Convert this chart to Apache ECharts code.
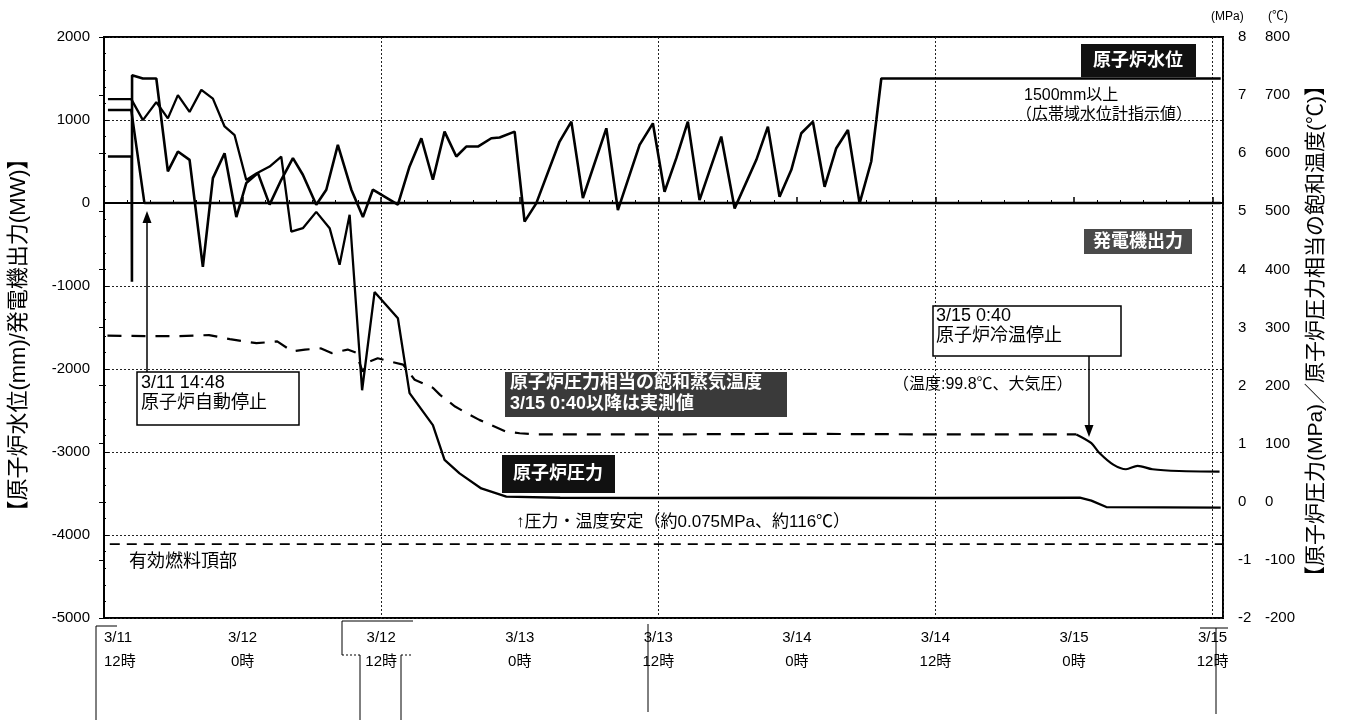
<!DOCTYPE html>
<html>
<head>
<meta charset="utf-8">
<script src="https://cdn.jsdelivr.net/npm/echarts@6/dist/echarts.min.js"></script>
<style>
  html, body { margin: 0; padding: 0; background: #fff; }
  #chart { width: 1346px; height: 720px; }
</style>
</head>
<body>
<div id="chart"></div>
<script>
// Time axis: hours elapsed since 3/11 12:00
const xTickLabels = ['3/11\n12時', '3/12\n0時', '3/12\n12時', '3/13\n0時', '3/13\n12時',
                     '3/14\n0時', '3/14\n12時', '3/15\n0時', '3/15\n12時'];

// 原子炉水位 (mm) : [hour, value]
const reactorLevel = [
  [0.34, 560], [2.39, 560], [2.42, -950], [2.43, 1540], [3.37, 1500], [4.53, 1500],
  [5.53, 380], [6.40, 620], [7.41, 520], [8.56, -770], [9.43, 300], [10.44, 600],
  [11.46, -170], [12.32, 240], [13.33, 360], [14.34, -20], [15.35, 280], [16.36, 540],
  [17.22, 340], [18.38, -20], [19.25, 160], [20.25, 700], [21.42, 160], [22.42, -170],
  [23.28, 160], [25.45, -20], [26.46, 440], [27.48, 780], [28.48, 280], [29.49, 860],
  [30.51, 560], [31.37, 680], [32.38, 680], [33.54, 780], [34.26, 790], [35.56, 860],
  [36.42, -225], [37.43, -5], [39.45, 740], [40.47, 980], [41.47, 60], [43.50, 900],
  [44.50, -85], [46.38, 700], [47.53, 960], [48.54, 135], [49.56, 540], [50.56, 980],
  [51.57, 35], [53.45, 800], [54.61, -65], [56.49, 520], [57.49, 920], [58.50, 75],
  [59.52, 400], [60.38, 840], [61.39, 980], [62.40, 195], [63.41, 660], [64.42, 880],
  [65.43, -5], [66.44, 500], [66.88, 1000], [67.31, 1500], [96.7, 1500]
];

// 発電機出力 (MW)
const generatorOutput = [[0.34, 1120], [2.36, 1120], [3.5, 0], [96.7, 0]];

// 原子炉圧力 (MPa)
const reactorPressure = [
  [0.34, 6.93], [2.36, 6.93], [3.37, 6.57], [4.53, 6.88], [5.53, 6.60], [6.40, 7.00],
  [7.41, 6.71], [8.43, 7.09], [9.43, 6.94], [10.44, 6.46], [11.31, 6.31], [12.32, 5.54],
  [13.19, 5.65], [14.34, 5.77], [15.35, 5.94], [16.22, 4.65], [17.22, 4.71], [18.38, 4.99],
  [19.54, 4.71], [20.40, 4.08], [21.27, 4.94], [22.35, 1.92], [23.43, 3.61], [25.45, 3.16],
  [26.46, 1.87], [28.48, 1.32], [29.49, 0.72], [30.79, 0.49], [32.67, 0.23], [34.84, 0.09],
  [39.5, 0.07], [48, 0.065], [60, 0.07], [72, 0.065], [84.5, 0.07], [85.5, 0.02],
  [86.8, -0.09], [96.7, -0.10]
];

// 原子炉圧力相当の飽和蒸気温度 (°C), until 3/15 0:40
const saturationTemp = [
  [0.3, 286], [4.2, 285], [6.5, 285], [9.1, 287], [10.9, 280], [13.2, 273], [15.0, 276],
  [16.3, 259], [17.4, 262], [18.8, 264], [19.7, 256], [21.1, 262], [21.8, 257], [22.4, 224],
  [22.8, 240], [23.7, 247], [24.9, 241], [25.9, 236], [26.9, 210], [28.5, 196], [29.1, 184],
  [30.4, 164], [31.2, 155], [32.5, 141], [33.4, 133], [34.8, 121], [36.0, 118], [37.3, 116],
  [48, 116], [60, 117], [72, 116], [84.2, 116]
];

// Measured temperature (°C) from 3/15 0:40
const measuredTemp = [
  [84.2, 116], [85.5, 101], [86.2, 84], [87.4, 64], [88.5, 56], [89.5, 62],
  [90.8, 56], [93.1, 53], [96.6, 52]
];

// 有効燃料頂部 (mm)
const fuelTop = [[0.5, -4110], [96.9, -4110]];

const FONT = "'Liberation Sans', 'Noto Sans CJK JP', sans-serif";
const X_MAX = 96.9;

const chart = echarts.init(document.getElementById('chart'), null, { renderer: 'canvas' });

function txt(text, x, y, opt) {
  return {
    type: 'text', z: 110, silent: true,
    style: Object.assign({
      text: text, x: x, y: y, fill: '#000',
      font: (opt && opt.font) || ('17px ' + FONT),
      align: 'left', verticalAlign: 'middle'
    }, opt || {})
  };
}
function box(x, y, w, h, fill, stroke) {
  return {
    type: 'rect', z: 100, silent: true,
    shape: { x: x, y: y, width: w, height: h },
    style: { fill: fill, stroke: stroke || null, lineWidth: stroke ? 1.5 : 0 }
  };
}
function seg(x1, y1, x2, y2, w, dash) {
  return {
    type: 'line', z: 100, silent: true,
    shape: { x1: x1, y1: y1, x2: x2, y2: y2 },
    style: { stroke: '#000', lineWidth: w || 1, lineDash: dash || null }
  };
}
function head(points) {
  return { type: 'polygon', z: 101, silent: true, shape: { points: points }, style: { fill: '#000' } };
}

const graphics = [
  // axis titles
  { type: 'text', z: 110, silent: true, x: 19, y: 335, rotation: Math.PI / 2,
    style: { text: '【原子炉水位(mm)/発電機出力(MW)】', font: '22px ' + FONT, fill: '#000',
             align: 'center', verticalAlign: 'middle' } },
  { type: 'text', z: 110, silent: true, x: 1316, y: 331, rotation: Math.PI / 2,
    style: { text: '【原子炉圧力(MPa)／原子炉圧力相当の飽和温度(℃)】', font: '21px ' + FONT, fill: '#000',
             align: 'center', verticalAlign: 'middle' } },
  txt('(MPa)', 1211, 17, { font: '12px ' + FONT }),
  txt('(℃)', 1268, 17, { font: '12px ' + FONT }),

  // 原子炉水位 label
  box(1081, 44, 115, 33, '#111'),
  txt('原子炉水位', 1138, 61, { font: 'bold 18px ' + FONT, fill: '#fff', align: 'center' }),
  txt('1500mm以上', 1024, 96, { font: '16px ' + FONT }),
  txt('（広帯域水位計指示値）', 1016, 115, { font: '16px ' + FONT }),

  // 発電機出力 label
  box(1084, 229, 108, 25, '#4a4a4a'),
  txt('発電機出力', 1138, 242, { font: 'bold 18px ' + FONT, fill: '#fff', align: 'center' }),

  // automatic scram
  box(137, 372, 162, 53, '#fff', '#000'),
  txt('3/11 14:48', 141, 383, { font: '18px ' + FONT }),
  txt('原子炉自動停止', 141, 403, { font: '18px ' + FONT }),
  seg(147, 372, 147, 221, 1.5),
  head([[147, 211], [142.5, 223], [151.5, 223]]),

  // cold shutdown
  box(933, 306, 188, 50, '#fff', '#000'),
  txt('3/15 0:40', 936, 316, { font: '18px ' + FONT }),
  txt('原子炉冷温停止', 936, 336, { font: '18px ' + FONT }),
  seg(1089, 356, 1089, 427, 1.5),
  head([[1089, 437], [1084.5, 425], [1093.5, 425]]),
  txt('（温度:99.8℃、大気圧）', 893, 385, { font: '16px ' + FONT }),

  // saturation temperature label
  box(505, 372, 282, 45, '#3a3a3a'),
  txt('原子炉圧力相当の飽和蒸気温度', 510, 383, { font: 'bold 18px ' + FONT, fill: '#fff' }),
  txt('3/15 0:40以降は実測値', 510, 404, { font: 'bold 18px ' + FONT, fill: '#fff' }),

  // pressure label
  box(502, 455, 113, 38, '#111'),
  txt('原子炉圧力', 558, 474, { font: 'bold 18px ' + FONT, fill: '#fff', align: 'center' }),
  txt('↑圧力・温度安定（約0.075MPa、約116℃）', 516, 522, { font: '17px ' + FONT }),

  // fuel top label
  txt('有効燃料頂部', 129, 562, { font: '18px ' + FONT }),

  // ruled lines beneath the time axis
  seg(96, 626, 96, 720), seg(96, 626, 117, 626),
  seg(342, 621, 413, 621), seg(342, 621, 342, 655),
  seg(342, 655, 360, 655, 1, [2, 2]), seg(401, 655, 413, 655, 1, [2, 2]),
  seg(360, 655, 360, 720), seg(401, 655, 401, 720),
  seg(648, 624, 648, 712),
  seg(1200, 628, 1228, 628), seg(1216, 628, 1216, 714)
];

const option = {
  animation: false,
  backgroundColor: '#fff',
  textStyle: { fontFamily: FONT },
  grid: { left: 104, right: 123, top: 37, bottom: 102, show: true,
          borderColor: '#000', borderWidth: 2, backgroundColor: 'transparent' },
  xAxis: [
    {
      type: 'value', min: 0, max: X_MAX, interval: 12, position: 'bottom',
      axisLine: { lineStyle: { color: '#000', width: 2 } },
      axisTick: { inside: true, length: 6, lineStyle: { color: '#000', width: 1.5 } },
      minorTick: { show: true, splitNumber: 6, length: 3, lineStyle: { color: '#000', width: 1 } },
      splitLine: { show: false },
      axisLabel: {
        color: '#000', fontSize: 15, lineHeight: 24, margin: 8, fontFamily: FONT,
        alignMinLabel: 'left',
        formatter: function (v) {
          const i = Math.round(v / 12);
          return Math.abs(v - i * 12) < 1e-6 && xTickLabels[i] ? xTickLabels[i] : '';
        }
      }
    },
    {
      type: 'value', min: 0, max: X_MAX, interval: 24, position: 'top',
      axisLine: { show: false }, axisTick: { show: false }, axisLabel: { show: false },
      splitLine: { show: true, lineStyle: { color: '#222', width: 1, type: [2, 2] } }
    }
  ],
  yAxis: [
    {
      type: 'value', min: -5000, max: 2000, interval: 1000, position: 'left',
      axisLine: { show: true, lineStyle: { color: '#000', width: 2 } },
      axisTick: { show: true, inside: true, length: 5, lineStyle: { color: '#000' } },
      minorTick: { show: true, splitNumber: 5, length: 2, lineStyle: { color: '#000' } },
      splitLine: { show: true, lineStyle: { color: '#222', width: 1, type: [2, 2] } },
      axisLabel: { color: '#000', fontSize: 15, margin: 14, fontFamily: FONT,
                   formatter: function (v) { return String(v); } }
    },
    {
      type: 'value', min: -2, max: 8, interval: 1, position: 'right',
      axisLine: { show: true, lineStyle: { color: '#000', width: 2 } },
      axisTick: { show: true, inside: true, length: 5, lineStyle: { color: '#000' } },
      splitLine: { show: false },
      axisLabel: { color: '#000', fontSize: 15, margin: 15, fontFamily: FONT }
    },
    {
      type: 'value', min: -200, max: 800, interval: 100, position: 'right', offset: 0,
      axisLine: { show: false }, axisTick: { show: false }, splitLine: { show: false },
      axisLabel: { color: '#000', fontSize: 15, margin: 42, fontFamily: FONT,
                   formatter: function (v) { return String(v); } }
    }
  ],
  series: [
    { name: '有効燃料頂部', type: 'line', yAxisIndex: 0, data: fuelTop, symbol: 'none', silent: true,
      lineStyle: { color: '#000', width: 1.6, type: [10, 7] } },
    { name: '発電機出力', type: 'line', yAxisIndex: 0, data: generatorOutput, symbol: 'none', silent: true,
      lineStyle: { color: '#000', width: 2.5 } },
    { name: '原子炉水位', type: 'line', yAxisIndex: 0, data: reactorLevel, symbol: 'none', silent: true,
      lineStyle: { color: '#000', width: 2.6 } },
    { name: '原子炉圧力', type: 'line', yAxisIndex: 1, data: reactorPressure, symbol: 'none', silent: true,
      lineStyle: { color: '#000', width: 2.3 } },
    { name: '飽和蒸気温度', type: 'line', yAxisIndex: 2, data: saturationTemp, symbol: 'none', silent: true,
      lineStyle: { color: '#000', width: 2.2, type: [14, 10] } },
    { name: '実測温度', type: 'line', yAxisIndex: 2, data: measuredTemp, symbol: 'none', silent: true,
      smooth: 0.3, lineStyle: { color: '#000', width: 2.2 } }
  ],
  graphic: graphics
};

chart.setOption(option);
</script>
</body>
</html>
